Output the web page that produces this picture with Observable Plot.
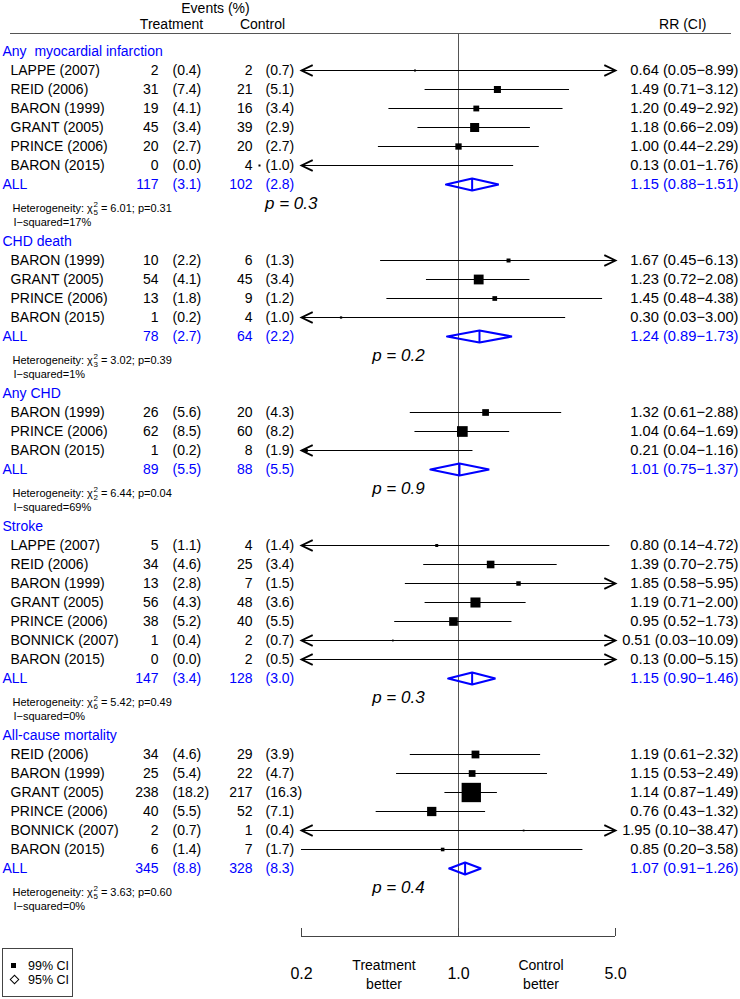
<!DOCTYPE html>
<html><head><meta charset="utf-8">
<script src="https://cdn.jsdelivr.net/npm/d3@7"></script>
<script src="https://cdn.jsdelivr.net/npm/@observablehq/plot@0.6"></script>
<style>
body{margin:0;background:#fff;font-family:"Liberation Sans",Arial,Helvetica,sans-serif;}
#wrap{position:relative;width:740px;height:999px;overflow:hidden;}
#legend{position:absolute;left:2px;top:948px;width:71px;height:49px;box-sizing:border-box;border:1px solid #444;font-size:12.5px;color:#000;}
#legend .it{position:absolute;left:0;height:14px;line-height:14px;}
#legend .sq{position:absolute;left:8px;top:4px;width:5px;height:5px;background:#000;}
#legend .di{position:absolute;left:8px;top:3px;width:5px;height:5px;border:1px solid #000;transform:rotate(45deg);}
#legend .lb{position:absolute;left:25px;top:0;white-space:nowrap;}
</style></head><body>
<div id="wrap"></div>
<script>
// ---------- data ----------
const groupLabel = ["Any\u00a0 myocardial infarction", "CHD death", "Any CHD", "Stroke", "All-cause mortality"];

const studyGroup = [0,0,0,0,0,0, 1,1,1,1, 2,2,2, 3,3,3,3,3,3,3, 4,4,4,4,4,4];
const studyName = ["LAPPE (2007)","REID (2006)","BARON (1999)","GRANT (2005)","PRINCE (2006)","BARON (2015)",
  "BARON (1999)","GRANT (2005)","PRINCE (2006)","BARON (2015)",
  "BARON (1999)","PRINCE (2006)","BARON (2015)",
  "LAPPE (2007)","REID (2006)","BARON (1999)","GRANT (2005)","PRINCE (2006)","BONNICK (2007)","BARON (2015)",
  "REID (2006)","BARON (1999)","GRANT (2005)","PRINCE (2006)","BONNICK (2007)","BARON (2015)"];
const trtEvents = [2,31,19,45,20,0, 10,54,13,1, 26,62,1, 5,34,13,56,38,1,0, 34,25,238,40,2,6];
const trtPct = [0.4,7.4,4.1,3.4,2.7,0.0, 2.2,4.1,1.8,0.2, 5.6,8.5,0.2, 1.1,4.6,2.8,4.3,5.2,0.4,0.0, 4.6,5.4,18.2,5.5,0.7,1.4];
const ctlEvents = [2,21,16,39,20,4, 6,45,9,4, 20,60,8, 4,25,7,48,40,2,2, 29,22,217,52,1,7];
const ctlPct = [0.7,5.1,3.4,2.9,2.7,1.0, 1.3,3.4,1.2,1.0, 4.3,8.2,1.9, 1.4,3.4,1.5,3.6,5.5,0.7,0.5, 3.9,4.7,16.3,7.1,0.4,1.7];
const rr = [0.64,1.49,1.20,1.18,1.00,0.13, 1.67,1.23,1.45,0.30, 1.32,1.04,0.21, 0.80,1.39,1.85,1.19,0.95,0.51,0.13, 1.19,1.15,1.14,0.76,1.95,0.85];
const rrLo = [0.05,0.71,0.49,0.66,0.44,0.01, 0.45,0.72,0.48,0.03, 0.61,0.64,0.04, 0.14,0.70,0.58,0.71,0.52,0.03,0.00, 0.61,0.53,0.87,0.43,0.10,0.20];
const rrHi = [8.99,3.12,2.92,2.09,2.29,1.76, 6.13,2.08,4.38,3.00, 2.88,1.69,1.16, 4.72,2.75,5.95,2.00,1.73,10.09,5.15, 2.32,2.49,1.49,1.32,38.47,3.58];

const allTrtEvents = [117,78,89,147,345];
const allTrtPct = [3.1,2.7,5.5,3.4,8.8];
const allCtlEvents = [102,64,88,128,328];
const allCtlPct = [2.8,2.2,5.5,3.0,8.3];
const allRr = [1.15,1.24,1.01,1.15,1.07];
const allLo = [0.88,0.89,0.75,0.90,0.91];
const allHi = [1.51,1.73,1.37,1.46,1.26];
const hetDf = [5,3,2,6,5];
const hetChi2 = [6.01,3.02,6.44,5.42,3.63];
const hetP = [0.31,0.39,0.04,0.49,0.60];
const iSquared = [17,1,69,0,0];
const pOverall = [0.3,0.2,0.9,0.3,0.4];

const axisTicks = [0.2, 1.0, 5.0];
const headerEvents = "Events (%)", headerTrt = "Treatment", headerCtl = "Control", headerRR = "RR (CI)";
const betterLabels = ["Treatment\nbetter", "Control\nbetter"];
const legendLabels = ["99% CI", "95% CI"];

// ---------- layout ----------
const W = 740, H = 999;
const mTop = 33, mBottom = 63, mLeft = 10, mRight = 10;
const xDomain = [0.2, 5];
const yDomain = [0, 43], yRange = [51, 868];
const rowPx = (yRange[1] - yRange[0]) / (yDomain[1] - yDomain[0]);
const axisRow = d3.scaleLinear(yDomain, yRange).invert(H - mBottom);
const FONT = '"Liberation Sans", Arial, Helvetica, sans-serif';
const BLUE = "#0000ff";

let row = 0;
const headerRow = [], allRow = [], studyRow = [];
groupLabel.forEach((_, g) => {
  headerRow[g] = row++;
  studyGroup.forEach((sg, i) => { if (sg === g) studyRow[i] = row++; });
  allRow[g] = row; row += 3;
});

const studies = studyName.map((name, i) => ({
  name, g: studyGroup[i], row: studyRow[i],
  te: trtEvents[i], tp: trtPct[i], ce: ctlEvents[i], cp: ctlPct[i],
  rr: rr[i], lo: rrLo[i], hi: rrHi[i],
  w: 1 / Math.log(rrHi[i] / rrLo[i])
}));
const pooled = groupLabel.map((label, g) => ({
  label, g, hrow: headerRow[g], row: allRow[g],
  te: allTrtEvents[g], tp: allTrtPct[g], ce: allCtlEvents[g], cp: allCtlPct[g],
  rr: allRr[g], lo: allLo[g], hi: allHi[g],
  df: hetDf[g], chi: hetChi2[g], hp: hetP[g], i2: iSquared[g], p: pOverall[g]
}));

const dh = 6 / rowPx;
const diamondPts = pooled.flatMap(d => [
  {g: d.g, x: d.lo, y: d.row}, {g: d.g, x: d.rr, y: d.row - dh},
  {g: d.g, x: d.hi, y: d.row}, {g: d.g, x: d.rr, y: d.row + dh}, {g: d.g, x: d.lo, y: d.row}
]);

const clampX = v => Math.max(xDomain[0], Math.min(xDomain[1], v));
const fmtRR = d => `${d.rr.toFixed(2)} (${d.lo.toFixed(2)}\u2212${d.hi.toFixed(2)})`;

const chevronLeft = {draw(ctx, size) { const s = Math.sqrt(size / Math.PI); ctx.moveTo(2.8 * s, -1.35 * s); ctx.lineTo(0, 0); ctx.lineTo(2.8 * s, 1.35 * s); }};
const chevronRight = {draw(ctx, size) { const s = Math.sqrt(size / Math.PI); ctx.moveTo(-2.8 * s, -1.35 * s); ctx.lineTo(0, 0); ctx.lineTo(-2.8 * s, 1.35 * s); }};

const txt = (data, o) => Plot.text(data, {fontSize: 14, frameAnchor: "left", ...o});

const chart = Plot.plot({
  width: W, height: H,
  marginTop: mTop, marginBottom: mBottom, marginLeft: mLeft, marginRight: mRight,
  x: {type: "log", domain: xDomain, range: [301, 615], axis: null, label: null},
  y: {domain: yDomain, range: yRange, axis: null},
  r: {type: "linear", domain: [0, 1], range: [0, 5.87]},
  style: {fontFamily: FONT, color: "#000", background: "#fff", overflow: "visible"},
  marks: [
    Plot.frame({anchor: "top", stroke: "#555"}),
    Plot.ruleX([1], {stroke: "#555"}),
    Plot.ruleY([axisRow], {x1: xDomain[0], x2: xDomain[1], stroke: "#444"}),
    Plot.ruleX(axisTicks, {x: d => d, y1: axisRow, y2: axisRow - 8 / rowPx, stroke: "#444"}),
    Plot.axisX({ticks: axisTicks, anchor: "bottom", tickSize: 0, tickPadding: 31, tickFormat: d => d.toFixed(1), fontSize: 16, label: null}),
    Plot.text(betterLabels, {x: [Math.sqrt(0.2), Math.sqrt(5)], frameAnchor: "bottom", lineAnchor: "middle", dy: 36.5, dx: 4, text: d => d, fontSize: 14, lineHeight: 1.36}),

    // headers
    txt([headerEvents], {y: -2.27, text: d => d, dx: 205, textAnchor: "middle"}),
    txt([headerTrt], {y: -1.42, text: d => d, dx: 161, textAnchor: "middle"}),
    txt([headerCtl], {y: -1.42, text: d => d, dx: 252, textAnchor: "middle"}),
    txt([headerRR], {y: -1.42, text: d => d, frameAnchor: "right", dx: -24, textAnchor: "end"}),

    // CI lines, arrows, boxes
    Plot.ruleY(studies, {y: "row", x1: d => clampX(d.lo), x2: d => clampX(d.hi), stroke: "#000", strokeWidth: 1}),
    Plot.dot(studies.filter(d => d.lo < xDomain[0]), {x: () => xDomain[0], y: "row", r: 4, symbol: chevronLeft, fill: "none", stroke: "#000", strokeWidth: 1.8}),
    Plot.dot(studies.filter(d => d.hi > xDomain[1]), {x: () => xDomain[1], y: "row", r: 4, symbol: chevronRight, fill: "none", stroke: "#000", strokeWidth: 1.8}),
    Plot.dot(studies, {x: "rr", y: "row", r: "w", symbol: "square", fill: "#000", stroke: null}),

    // pooled diamonds
    Plot.line(diamondPts, {x: "x", y: "y", z: "g", stroke: BLUE, strokeWidth: 2.2, strokeLinejoin: "miter"}),
    Plot.ruleX(pooled, {x: "rr", y1: d => d.row - dh, y2: d => d.row + dh, stroke: BLUE, strokeWidth: 2}),

    // group headers
    txt(pooled, {y: "hrow", text: "label", dx: -8, textAnchor: "start", fill: BLUE}),
    // study text
    txt(studies, {y: "row", text: "name", dx: 0, textAnchor: "start"}),
    txt(studies, {y: "row", text: d => String(d.te), dx: 148, textAnchor: "end"}),
    txt(studies, {y: "row", text: d => `(${d.tp.toFixed(1)})`, dx: 162, textAnchor: "start"}),
    txt(studies, {y: "row", text: d => String(d.ce), dx: 242, textAnchor: "end"}),
    txt(studies, {y: "row", text: d => `(${d.cp.toFixed(1)})`, dx: 255, textAnchor: "start"}),
    txt(studies, {y: "row", text: fmtRR, frameAnchor: "right", dx: 8, textAnchor: "end", fontSize: 14.7}),
    // pooled text
    txt(pooled, {y: "row", text: () => "ALL", dx: -8, textAnchor: "start", fill: BLUE}),
    txt(pooled, {y: "row", text: d => String(d.te), dx: 148, textAnchor: "end", fill: BLUE}),
    txt(pooled, {y: "row", text: d => `(${d.tp.toFixed(1)})`, dx: 162, textAnchor: "start", fill: BLUE}),
    txt(pooled, {y: "row", text: d => String(d.ce), dx: 242, textAnchor: "end", fill: BLUE}),
    txt(pooled, {y: "row", text: d => `(${d.cp.toFixed(1)})`, dx: 255, textAnchor: "start", fill: BLUE}),
    txt(pooled, {y: "row", text: fmtRR, frameAnchor: "right", dx: 8, textAnchor: "end", fontSize: 14.7, fill: BLUE}),
    // heterogeneity
    txt(pooled, {y: d => d.row + 1.25, text: d => `Heterogeneity: \u03c7^2_${d.df} = ${d.chi.toFixed(2)}; p=${d.hp.toFixed(2)}`, dx: 2, textAnchor: "start", fontSize: 11}),
    txt(pooled, {y: d => d.row + 2.0, text: d => `I\u2212squared=${d.i2}%`, dx: 3, textAnchor: "start", fontSize: 11}),
    // overall p
    Plot.text(pooled.filter(d => d.g === 0), {x: () => 0.18, y: d => d.row + 1, text: d => `p = ${d.p.toFixed(1)}`, fontStyle: "italic", fontSize: 17}),
    Plot.text(pooled.filter(d => d.g !== 0), {x: () => 0.54, y: d => d.row + 1, text: d => `p = ${d.p.toFixed(1)}`, fontStyle: "italic", fontSize: 17})
  ]
});

// superscript / subscript for chi-square
d3.select(chart).selectAll("text").each(function () {
  const m = /^(.*\u03c7)\^(\d+)_(\d+)(.*)$/.exec(this.textContent);
  if (!m) return;
  const t = d3.select(this);
  t.text(null);
  t.append("tspan").text(m[1]);
  t.append("tspan").attr("font-size", 8).attr("dx", 0.5).attr("dy", -4.5).text(m[2]);
  t.append("tspan").attr("font-size", 8).attr("dx", -4.45).attr("dy", 8).text(m[3]);
  t.append("tspan").attr("dy", -3.5).text(m[4]);
});

const wrap = document.getElementById("wrap");
wrap.appendChild(chart);

// legend
const leg = d3.select(wrap).append("div").attr("id", "legend");
legendLabels.forEach((lab, i) => {
  const it = leg.append("div").attr("class", "it").style("top", (10 + i * 14) + "px").style("width", "100%");
  it.append("div").attr("class", i === 0 ? "sq" : "di");
  it.append("div").attr("class", "lb").text(lab);
});
</script>
</body></html>
